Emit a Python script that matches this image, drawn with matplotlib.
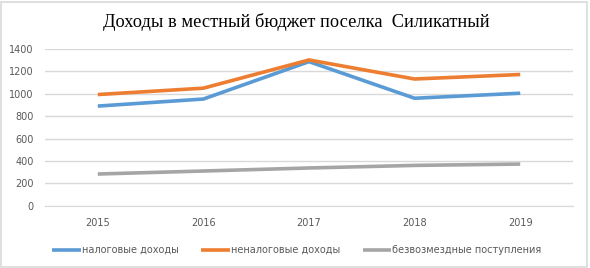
import matplotlib
matplotlib.use("Agg")
import matplotlib.pyplot as plt
from matplotlib.patches import Rectangle

years = ["2015", "2016", "2017", "2018", "2019"]
tax = [890, 953, 1287, 960, 1005]
nontax = [993, 1050, 1302, 1132, 1172]
grants = [283, 310, 337, 360, 372]
series_names = ["налоговые доходы", "неналоговые доходы", "безвозмездные поступления"]
yticks = [0, 200, 400, 600, 800, 1000, 1200, 1400]

fig = plt.figure(figsize=(5.9, 2.68), dpi=100)
fig.patches.append(Rectangle((0.002, 0.004), 0.993, 0.99, transform=fig.transFigure,
                             fill=False, edgecolor="#d9d9d9", linewidth=1.2))
ax = fig.add_axes([45/590, 1 - 205.7/268, 528/590, 156.7/268])

x = list(range(len(years)))
colors = ["#5b9bd5", "#ed7d31", "#a5a5a5"]
for vals, c, name in zip([tax, nontax, grants], colors, series_names):
    ax.plot(x, vals, color=c, linewidth=2.6, label=name, solid_capstyle="butt", solid_joinstyle="miter")

ax.set_xlim(-0.5, len(years) - 0.5)
ax.set_ylim(0, 1400)
ax.set_yticks(yticks)
ax.set_xticks(x)
ax.set_xticklabels(years)
ax.grid(axis="y", color="#d9d9d9", linewidth=1)
ax.set_axisbelow(True)
for s in ["top", "right", "left"]:
    ax.spines[s].set_visible(False)
ax.spines["bottom"].set_color("#d9d9d9")
ax.tick_params(axis="both", length=0, labelsize=7, labelcolor="#595959")
ax.tick_params(axis="y", pad=8)
ax.tick_params(axis="x", pad=9)

fig.text(296/590, 1 - 22/268, "Доходы в местный бюджет поселка  Силикатный",
         ha="center", va="center", fontsize=13.2, family="Liberation Serif", color="#000000")

fig.legend(loc="center", bbox_to_anchor=(297/590, 1 - 250/268), ncol=3, frameon=False,
           fontsize=7, labelcolor="#595959", handlelength=2.9, handletextpad=0.15,
           columnspacing=2.3)

fig.savefig("out.png", dpi=100)
